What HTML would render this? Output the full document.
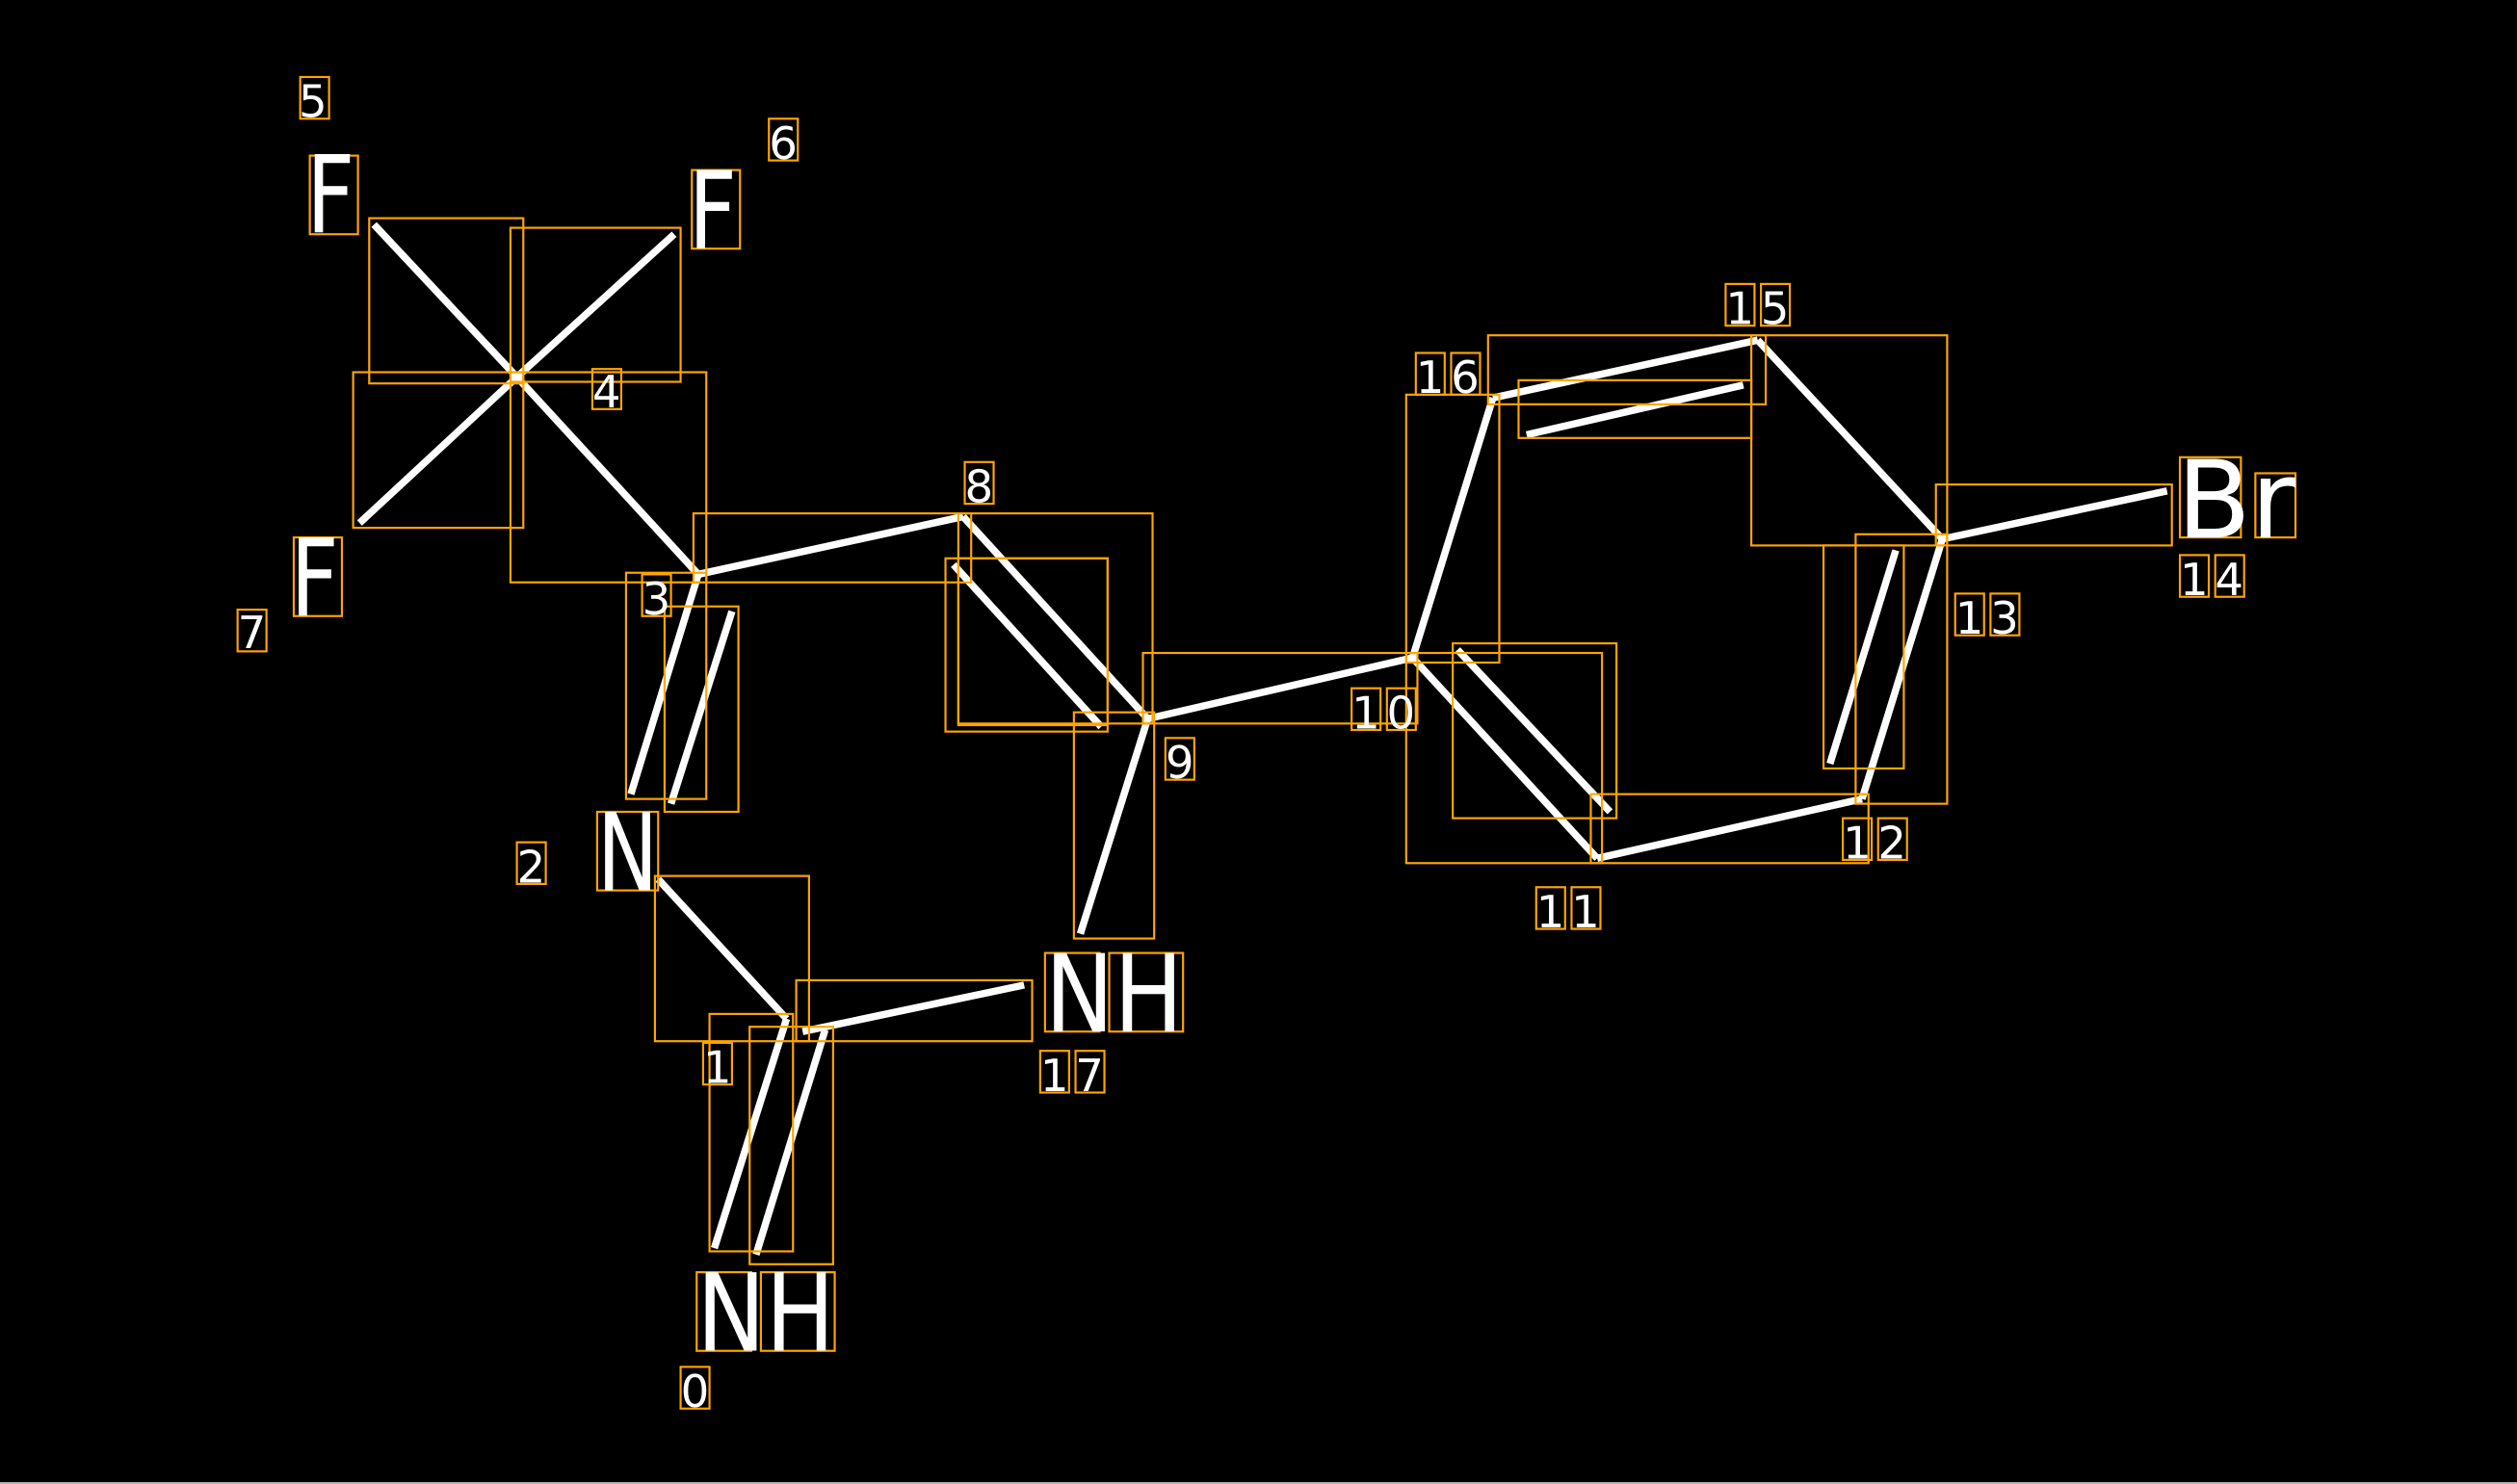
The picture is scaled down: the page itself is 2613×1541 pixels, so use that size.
<!DOCTYPE html>
<html><head><meta charset="utf-8"><style>
html,body{margin:0;padding:0;background:#000;}
svg{display:block;}
text{font-family:"DejaVu Sans","Liberation Sans",sans-serif;fill:#fff;}
</style></head><body>
<svg width="2613" height="1541" viewBox="0 0 1568 925" preserveAspectRatio="none" xmlns="http://www.w3.org/2000/svg">
<rect x="0" y="0" width="1568" height="925" fill="#000"/>
<line x1="0" y1="924.4" x2="1568" y2="924.4" stroke="#ccc" stroke-width="1"/>
<g stroke="#fff" stroke-width="4.5" fill="none">
<line x1="322" y1="235" x2="233" y2="140"/>
<line x1="322" y1="235" x2="420" y2="146"/>
<line x1="322" y1="235" x2="224" y2="326"/>
<line x1="322" y1="235" x2="435" y2="358"/>
<line x1="435" y1="358" x2="600" y2="322"/>
<line x1="600" y1="322" x2="715" y2="448"/>
<line x1="594" y1="352" x2="686" y2="453"/>
<line x1="435" y1="358" x2="393" y2="495"/>
<line x1="456" y1="381" x2="418" y2="501"/>
<line x1="410" y1="548" x2="490" y2="635"/>
<line x1="500" y1="643" x2="638" y2="614"/>
<line x1="490" y1="635" x2="445" y2="778"/>
<line x1="514" y1="642" x2="471" y2="782"/>
<line x1="715" y1="448" x2="673" y2="582"/>
<line x1="715" y1="448" x2="880" y2="410"/>
<line x1="880" y1="410" x2="930" y2="248"/>
<line x1="930" y1="248" x2="1095" y2="212"/>
<line x1="951" y1="271" x2="1086" y2="240"/>
<line x1="1095" y1="212" x2="1210" y2="336"/>
<line x1="1210" y1="336" x2="1350" y2="306"/>
<line x1="1210" y1="336" x2="1160" y2="498"/>
<line x1="1181" y1="343" x2="1140" y2="476"/>
<line x1="1160" y1="498" x2="995" y2="535"/>
<line x1="995" y1="535" x2="880" y2="410"/>
<line x1="908" y1="405" x2="1003" y2="506"/>
</g>
<g stroke="#ffa500" stroke-width="1.3" fill="none">
<rect x="230" y="136" width="96" height="103"/>
<rect x="318" y="142" width="106" height="96"/>
<rect x="220" y="232" width="106" height="97"/>
<rect x="318" y="232" width="122" height="131"/>
<rect x="432" y="320" width="173" height="43"/>
<rect x="597" y="320" width="121" height="131"/>
<rect x="589" y="348" width="101" height="108"/>
<rect x="597" y="348" width="93" height="104"/>
<rect x="390" y="357" width="50" height="141"/>
<rect x="414" y="378" width="46" height="128"/>
<rect x="408" y="546" width="96" height="103"/>
<rect x="496" y="611" width="147" height="38"/>
<rect x="442" y="632" width="52" height="148"/>
<rect x="467" y="640" width="52" height="148"/>
<rect x="669" y="444" width="50" height="141"/>
<rect x="712" y="407" width="171" height="44"/>
<rect x="876" y="246" width="58" height="167"/>
<rect x="927" y="209" width="173" height="43"/>
<rect x="946" y="237" width="145" height="36"/>
<rect x="1091" y="209" width="122" height="131"/>
<rect x="1206" y="302" width="147" height="38"/>
<rect x="1156" y="333" width="57" height="168"/>
<rect x="1136" y="340" width="50" height="139"/>
<rect x="991" y="495" width="173" height="43"/>
<rect x="876" y="407" width="122" height="131"/>
<rect x="905" y="401" width="102" height="109"/>
<rect x="187" y="48" width="18" height="26"/>
<rect x="193" y="97" width="30" height="49"/>
<rect x="479" y="74" width="18" height="26"/>
<rect x="431" y="106" width="30" height="49"/>
<rect x="369" y="230" width="18" height="25"/>
<rect x="183" y="335" width="30" height="49"/>
<rect x="148" y="380" width="18" height="26"/>
<rect x="400" y="358" width="18" height="26"/>
<rect x="601" y="288" width="18" height="26"/>
<rect x="726" y="460" width="18" height="26"/>
<rect x="322" y="525" width="18" height="26"/>
<rect x="372" y="506" width="38" height="49"/>
<rect x="438" y="650" width="18" height="26"/>
<rect x="651" y="594" width="34" height="49"/>
<rect x="691" y="594" width="46" height="49"/>
<rect x="648" y="655" width="18" height="26"/>
<rect x="670" y="655" width="18" height="26"/>
<rect x="434" y="793" width="34" height="49"/>
<rect x="474" y="793" width="46" height="49"/>
<rect x="424" y="852" width="18" height="26"/>
<rect x="842" y="429" width="18" height="26"/>
<rect x="864" y="429" width="18" height="26"/>
<rect x="882" y="220" width="18" height="26"/>
<rect x="904" y="220" width="18" height="26"/>
<rect x="1075" y="177" width="18" height="26"/>
<rect x="1097" y="177" width="18" height="26"/>
<rect x="1358" y="285" width="38" height="50"/>
<rect x="1405" y="295" width="25" height="40"/>
<rect x="1358" y="346" width="18" height="26"/>
<rect x="1380" y="346" width="18" height="26"/>
<rect x="1218" y="370" width="18" height="26"/>
<rect x="1240" y="370" width="18" height="26"/>
<rect x="1148" y="510" width="18" height="26"/>
<rect x="1170" y="510" width="18" height="26"/>
<rect x="957" y="553" width="18" height="26"/>
<rect x="979" y="553" width="18" height="26"/>
</g>
<g font-size="28">
<text x="186" y="73">5</text>
<text x="479" y="99">6</text>
<text x="369" y="254">4</text>
<text x="148" y="404">7</text>
<text x="400" y="383">3</text>
<text x="601" y="313">8</text>
<text x="726" y="485">9</text>
<text x="322" y="550">2</text>
<text x="438" y="675">1</text>
<text x="648" y="680" letter-spacing="4">17</text>
<text x="424" y="877">0</text>
<text x="842" y="454" letter-spacing="4">10</text>
<text x="882" y="245" letter-spacing="4">16</text>
<text x="1075" y="202" letter-spacing="4">15</text>
<text x="1358" y="371" letter-spacing="4">14</text>
<text x="1218" y="395" letter-spacing="4">13</text>
<text x="1148" y="535" letter-spacing="4">12</text>
<text x="957" y="578" letter-spacing="4">11</text>
</g>
<g font-size="67">
<text x="191" y="145" textLength="30" lengthAdjust="spacingAndGlyphs">F</text>
<text x="429" y="155" textLength="30" lengthAdjust="spacingAndGlyphs">F</text>
<text x="181" y="384" textLength="30" lengthAdjust="spacingAndGlyphs">F</text>
<text x="372" y="555" textLength="38" lengthAdjust="spacingAndGlyphs">N</text>
<text x="651" y="643" textLength="86" lengthAdjust="spacingAndGlyphs">NH</text>
<text x="434" y="842" textLength="86" lengthAdjust="spacingAndGlyphs">NH</text>
<text x="1356" y="335" textLength="74" lengthAdjust="spacingAndGlyphs">Br</text>
</g>
</svg>
</body></html>
